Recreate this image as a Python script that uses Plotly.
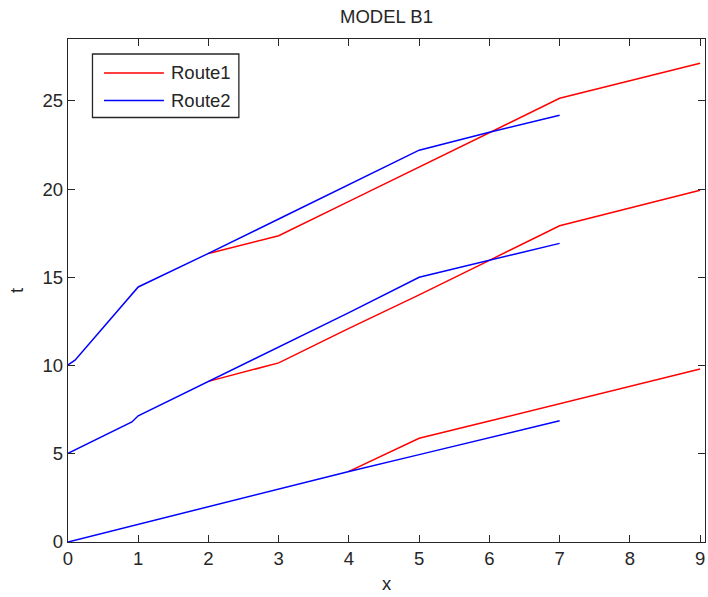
import plotly.graph_objects as go

# Three vehicles; each follows Route2 (blue) up to x=7, or branches onto Route1 (red) up to x=9
route2_x = [
    [0, 1, 2, 3, 4, 5, 6, 7],
    [0, 0.91, 1, 2, 3, 4, 5, 6, 7],
    [0, 0.1, 1, 2, 3, 4, 5, 6, 7],
]
route2_t = [
    [0, 1, 2, 3, 4, 4.95, 5.9, 6.87],
    [5.03, 6.8, 7.15, 9.1, 11.05, 13.0, 15.0, 15.97, 16.92],
    [10.03, 10.3, 14.45, 16.35, 18.3, 20.25, 22.2, 23.22, 24.18],
]
route1_x = [
    [4, 5, 6, 7, 8, 9],
    [2, 3, 4, 5, 6, 7, 8, 9],
    [2, 3, 4, 5, 6, 7, 8, 9],
]
route1_t = [
    [4, 5.88, 6.85, 7.82, 8.8, 9.8],
    [9.1, 10.15, 12.1, 14.0, 15.96, 17.92, 18.92, 19.93],
    [16.35, 17.35, 19.3, 21.25, 23.2, 25.14, 26.14, 27.13],
]
series_names = ["Route1", "Route2"]
series_colors = ["#ff0000", "#0000ff"]

W, H = 708, 597
ML, MR, MT, MB = 68, 2.5, 39, 55
FONT = "Liberation Sans, Arial, sans-serif"
INK = "#262626"
FS = 18.5

fig = go.Figure()
for xs, ts in zip(route1_x, route1_t):
    fig.add_trace(go.Scatter(x=xs, y=ts, mode="lines", name=series_names[0],
                             line=dict(color=series_colors[0], width=1.5),
                             showlegend=False))
for xs, ts in zip(route2_x, route2_t):
    fig.add_trace(go.Scatter(x=xs, y=ts, mode="lines", name=series_names[1],
                             line=dict(color=series_colors[1], width=1.5),
                             showlegend=False))

# Boxed legend in the upper-left corner, laid out in pixels
pw, ph = W - ML - MR, H - MT - MB


def px(x):
    return (x - ML) / pw


def py(y):
    return (H - MB - y) / ph


shapes = [dict(type="rect", xref="paper", yref="paper",
               x0=px(92.5), x1=px(239), y0=py(117.5), y1=py(54),
               line=dict(color=INK, width=1.3), fillcolor="white", layer="above")]
annotations = []
for i, (name, col) in enumerate(zip(series_names, series_colors)):
    yy = 73 + 27.5 * i
    shapes.append(dict(type="line", xref="paper", yref="paper",
                       x0=px(104), x1=px(164), y0=py(yy), y1=py(yy),
                       line=dict(color=col, width=1.5), layer="above"))
    annotations.append(dict(xref="paper", yref="paper", x=px(169), y=py(yy),
                            text=name, showarrow=False, xanchor="left",
                            yanchor="middle", font=dict(family=FONT, size=FS, color=INK)))

axis_common = dict(showline=True, linecolor=INK, linewidth=1.3, mirror="ticks",
                   ticks="inside", ticklen=7, tickwidth=1.3, tickcolor=INK,
                   showgrid=False, zeroline=False,
                   tickfont=dict(family=FONT, size=FS, color=INK))

fig.update_layout(
    width=W, height=H,
    margin=dict(l=ML, r=MR, t=MT, b=MB),
    paper_bgcolor="white", plot_bgcolor="white",
    title=dict(text="MODEL B1", x=px((ML + W - MR) / 2), xref="paper",
               xanchor="center", y=1 - 17 / H, yref="container", yanchor="middle",
               font=dict(family=FONT, size=FS, color=INK)),
    xaxis=dict(range=[0, 9.07], tickvals=list(range(10)),
               title=dict(text="x", font=dict(family=FONT, size=FS, color=INK), standoff=8),
               **axis_common),
    yaxis=dict(range=[0, 28.5], tickvals=[0, 5, 10, 15, 20, 25],
               title=dict(text="t", font=dict(family=FONT, size=FS, color=INK), standoff=14),
               **axis_common),
    shapes=shapes,
    annotations=annotations,
    showlegend=False,
)

fig.write_html("out.html")
